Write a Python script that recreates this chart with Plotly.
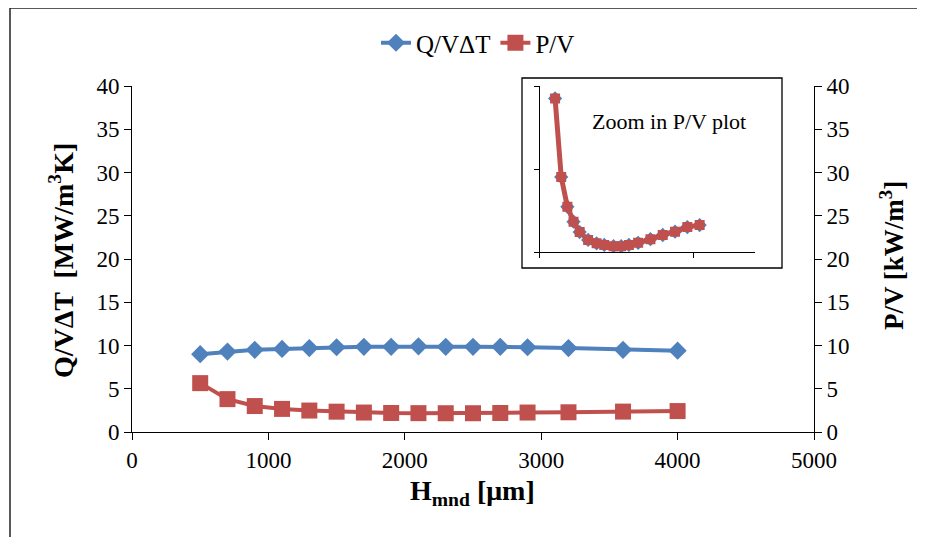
import plotly.graph_objects as go

# ---------------- data ----------------
h_mnd = [500, 700, 900, 1100, 1300, 1500, 1700, 1900, 2100, 2300, 2500, 2700, 2900, 3200, 3600, 4000]
q_v_dt = [9.0, 9.3, 9.5, 9.6, 9.7, 9.8, 9.85, 9.85, 9.9, 9.85, 9.85, 9.85, 9.8, 9.7, 9.5, 9.4]
p_v = [5.65, 3.8, 3.0, 2.67, 2.48, 2.35, 2.25, 2.2, 2.18, 2.17, 2.17, 2.2, 2.25, 2.28, 2.36, 2.42]

inset_x = [500, 700, 900, 1100, 1300, 1575, 1850, 2100, 2400, 2650, 2900, 3200, 3600, 4000, 4400, 4800, 5200]
inset_p_v = [5.70, 3.81, 3.09, 2.73, 2.48, 2.29, 2.21, 2.17, 2.14, 2.14, 2.17, 2.22, 2.31, 2.41, 2.49, 2.60, 2.65]

x_ticks = [0, 1000, 2000, 3000, 4000, 5000]
y_ticks = [0, 5, 10, 15, 20, 25, 30, 35, 40]

# ---------------- layout helpers ----------------
PAGE_W, PAGE_H = 925, 537
OFF = 8  # default body margin of the html page
W, H = PAGE_W - OFF, PAGE_H - OFF
L, R, T, B = 132, 814, 86, 432  # plot area in page px


def px(xpix):
    return (xpix - L) / (R - L)


def py(ypix):
    return (B - ypix) / (B - T)


BLUE = "#4F81BD"
RED = "#C0504D"
FONT = "Liberation Serif"

fig = go.Figure()

fig.add_trace(go.Scatter(
    x=h_mnd, y=q_v_dt, name="Q/VΔT", mode="lines+markers",
    line=dict(color=BLUE, width=4),
    marker=dict(symbol="diamond", size=14, color=BLUE),
    xaxis="x", yaxis="y"))
fig.add_trace(go.Scatter(
    x=h_mnd, y=p_v, name="P/V", mode="lines+markers",
    line=dict(color=RED, width=4),
    marker=dict(symbol="square", size=16, color=RED),
    xaxis="x", yaxis="y2"))

# inset
fig.add_trace(go.Scatter(
    x=inset_x, y=inset_p_v, mode="markers", showlegend=False,
    marker=dict(symbol="diamond", size=11, color=BLUE),
    xaxis="x2", yaxis="y3"))
fig.add_trace(go.Scatter(
    x=inset_x, y=inset_p_v, mode="lines+markers", showlegend=False,
    line=dict(color=RED, width=5),
    marker=dict(symbol="square", size=10, color=RED),
    xaxis="x2", yaxis="y3"))

axis_common = dict(showgrid=False, zeroline=False, showline=True, linecolor="black",
                   linewidth=1, ticks="outside", ticklen=7, tickcolor="black",
                   tickfont=dict(family=FONT, size=23, color="black"))

fig.update_layout(
    width=W, height=H,
    margin=dict(l=L - OFF, r=PAGE_W - R, t=T - OFF, b=PAGE_H - B, pad=0),
    paper_bgcolor="white", plot_bgcolor="white",
    font=dict(family=FONT, color="black"),
    xaxis=dict(range=[0, 5000], tickvals=x_ticks, **axis_common),
    yaxis=dict(range=[0, 40], tickvals=y_ticks, **axis_common),
    yaxis2=dict(range=[0, 40], tickvals=y_ticks, overlaying="y", side="right",
                **axis_common),
    xaxis2=dict(domain=[px(539.7), px(755)], anchor="y3", range=[0, 7000],
                tickvals=[0, 5000], showticklabels=False, showgrid=False,
                zeroline=False, showline=True, linecolor="black", linewidth=1,
                ticks="outside", ticklen=5, tickcolor="black"),
    yaxis3=dict(domain=[py(252), py(86)], anchor="x2", range=[2, 6],
                tickvals=[2, 4, 6], showticklabels=False, showgrid=False,
                zeroline=False, showline=True, linecolor="black", linewidth=1,
                ticks="outside", ticklen=5, tickcolor="black"),
    legend=dict(orientation="h", x=px(478), xanchor="center", y=py(43),
                yanchor="middle", font=dict(family=FONT, size=25, color="black"),
                bgcolor="rgba(0,0,0,0)", itemwidth=30),
    showlegend=True,
)

shapes = [
    # inset frame
    dict(type="rect", xref="paper", yref="paper", x0=px(522), x1=px(782),
         y0=py(268), y1=py(78), line=dict(color="black", width=1.3),
         fillcolor="white", layer="below"),
    # outer frame (left and top)
    dict(type="line", xref="paper", yref="paper", x0=px(10), x1=px(10),
         y0=py(PAGE_H + 5), y1=py(8), line=dict(color="#222", width=1.5)),
    dict(type="line", xref="paper", yref="paper", x0=px(10), x1=px(PAGE_W + 5),
         y0=py(8), y1=py(8), line=dict(color="#222", width=1.5)),
]
fig.update_layout(shapes=shapes)

annotations = [
    dict(text="<b>Q/VΔT  [MW/m<sup>3</sup>K]</b>", xref="paper", yref="paper",
         x=px(61), y=py(261), textangle=-90, showarrow=False,
         font=dict(family=FONT, size=28, color="black"), xanchor="center", yanchor="middle"),
    dict(text="<b>P/V [kW/m<sup>3</sup>]</b>", xref="paper", yref="paper",
         x=px(892), y=py(255), textangle=-90, showarrow=False,
         font=dict(family=FONT, size=27, color="black"), xanchor="center", yanchor="middle"),
    dict(text="<b>H<sub>mnd</sub> [μm]</b>", xref="paper", yref="paper",
         x=px(472), y=py(492), showarrow=False,
         font=dict(family=FONT, size=28, color="black"), xanchor="center", yanchor="middle"),
    dict(text="Zoom in P/V plot", xref="paper", yref="paper",
         x=px(669), y=py(121), showarrow=False,
         font=dict(family=FONT, size=22, color="black"), xanchor="center", yanchor="middle"),
]
fig.update_layout(annotations=annotations)

fig.write_html("out.html")
